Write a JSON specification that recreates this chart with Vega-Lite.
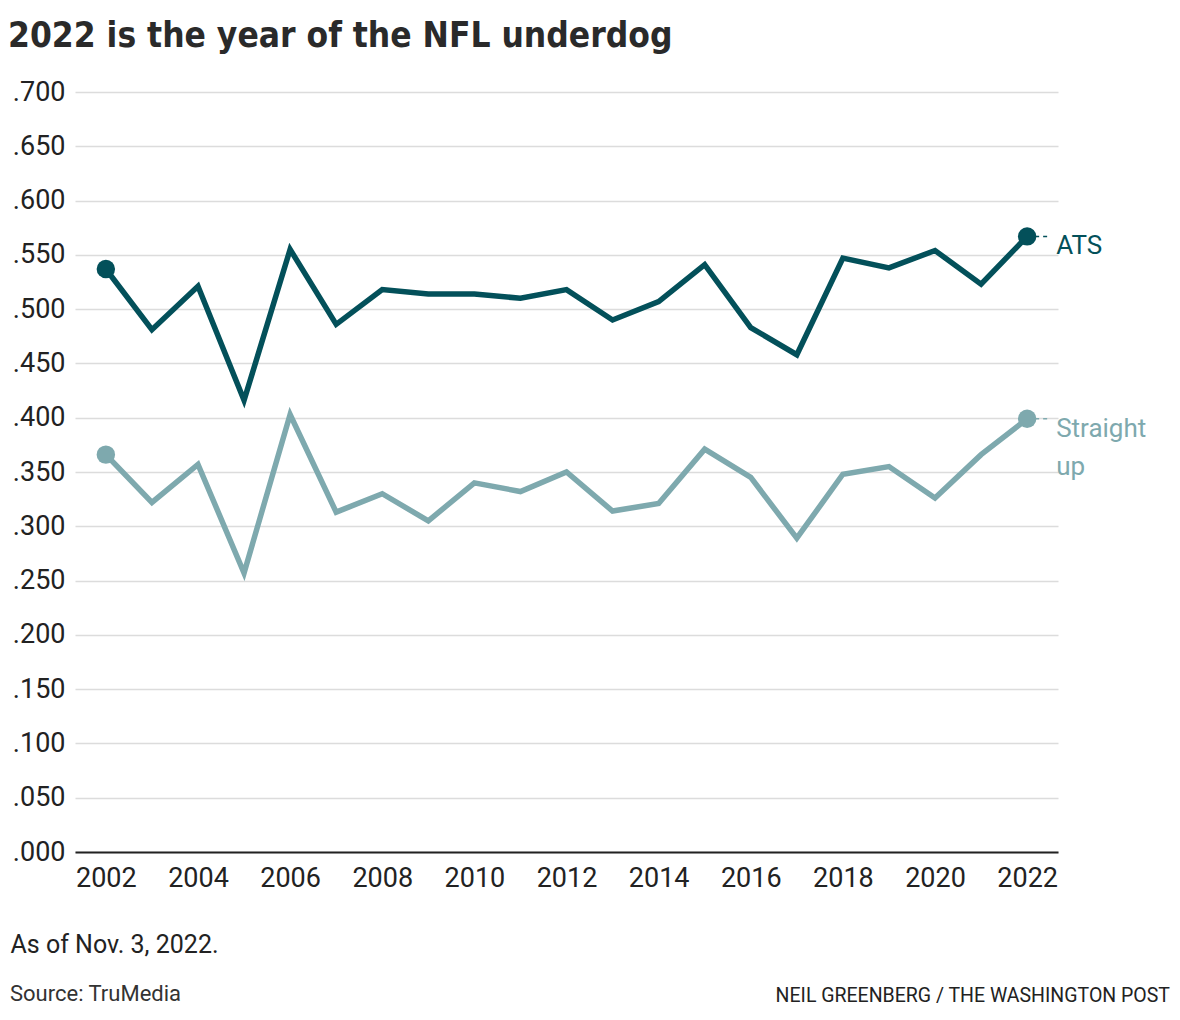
{
  "$schema": "https://vega.github.io/schema/vega-lite/v6.json",
  "background": "white",
  "padding": {"left": 8, "top": 19, "right": 10, "bottom": 10},
  "config": {
    "view": {"stroke": null},
    "font": "Roboto",
    "title": {"color": "#222222"}
  },
  "title": {
    "text": "2022 is the year of the NFL underdog",
    "anchor": "start",
    "frame": "bounds",
    "font": "DejaVu Sans Condensed",
    "fontWeight": "bold",
    "fontSize": 35,
    "color": "#2a2a2a",
    "offset": 24,
    "dx": -2
  },
  "vconcat": [
    {
      "title": {
        "text": "Source: TruMedia",
        "orient": "bottom",
        "anchor": "start",
        "frame": "bounds",
        "font": "Roboto",
        "fontWeight": "normal",
        "fontSize": 22,
        "color": "#333333",
        "offset": 0,
        "dy": -22
      },
      "vconcat": [
        {
          "width": 983,
          "height": 760,
          "title": {
            "text": "NEIL GREENBERG / THE WASHINGTON POST",
            "orient": "bottom",
            "anchor": "end",
            "frame": "group",
            "font": "Roboto",
            "fontWeight": "normal",
            "fontSize": 19.5,
            "color": "#222222",
            "offset": 30,
            "dx": 112
          },
          "data": {
            "values": [
              {"year": 2002, "series": "ATS", "value": 0.537},
              {"year": 2003, "series": "ATS", "value": 0.481},
              {"year": 2004, "series": "ATS", "value": 0.521},
              {"year": 2005, "series": "ATS", "value": 0.416},
              {"year": 2006, "series": "ATS", "value": 0.555},
              {"year": 2007, "series": "ATS", "value": 0.486},
              {"year": 2008, "series": "ATS", "value": 0.518},
              {"year": 2009, "series": "ATS", "value": 0.514},
              {"year": 2010, "series": "ATS", "value": 0.514},
              {"year": 2011, "series": "ATS", "value": 0.510},
              {"year": 2012, "series": "ATS", "value": 0.518},
              {"year": 2013, "series": "ATS", "value": 0.490},
              {"year": 2014, "series": "ATS", "value": 0.507},
              {"year": 2015, "series": "ATS", "value": 0.541},
              {"year": 2016, "series": "ATS", "value": 0.483},
              {"year": 2017, "series": "ATS", "value": 0.458},
              {"year": 2018, "series": "ATS", "value": 0.547},
              {"year": 2019, "series": "ATS", "value": 0.538},
              {"year": 2020, "series": "ATS", "value": 0.554},
              {"year": 2021, "series": "ATS", "value": 0.523},
              {"year": 2022, "series": "ATS", "value": 0.567},
              {"year": 2002, "series": "Straight up", "value": 0.366},
              {"year": 2003, "series": "Straight up", "value": 0.322},
              {"year": 2004, "series": "Straight up", "value": 0.357},
              {"year": 2005, "series": "Straight up", "value": 0.257},
              {"year": 2006, "series": "Straight up", "value": 0.403},
              {"year": 2007, "series": "Straight up", "value": 0.313},
              {"year": 2008, "series": "Straight up", "value": 0.330},
              {"year": 2009, "series": "Straight up", "value": 0.305},
              {"year": 2010, "series": "Straight up", "value": 0.340},
              {"year": 2011, "series": "Straight up", "value": 0.332},
              {"year": 2012, "series": "Straight up", "value": 0.350},
              {"year": 2013, "series": "Straight up", "value": 0.314},
              {"year": 2014, "series": "Straight up", "value": 0.321},
              {"year": 2015, "series": "Straight up", "value": 0.371},
              {"year": 2016, "series": "Straight up", "value": 0.345},
              {"year": 2017, "series": "Straight up", "value": 0.289},
              {"year": 2018, "series": "Straight up", "value": 0.348},
              {"year": 2019, "series": "Straight up", "value": 0.355},
              {"year": 2020, "series": "Straight up", "value": 0.326},
              {"year": 2021, "series": "Straight up", "value": 0.366},
              {"year": 2022, "series": "Straight up", "value": 0.399}
            ]
          },
          "encoding": {
            "x": {
              "field": "year",
              "type": "quantitative",
              "scale": {"domain": [2001.33, 2022.67], "nice": false, "zero": false},
              "axis": {
                "values": [2002, 2004, 2006, 2008, 2010, 2012, 2014, 2016, 2018, 2020, 2022],
                "format": "d",
                "grid": false,
                "ticks": false,
                "domainColor": "#222222",
                "domainWidth": 2,
                "labelFont": "Roboto",
                "labelFontSize": 27,
                "labelColor": "#222222",
                "labelPadding": 13,
                "labelFlush": false,
                "title": "As of Nov. 3, 2022.",
                "titleFont": "Roboto",
                "titleFontSize": 25,
                "titleFontWeight": "normal",
                "titleColor": "#222222",
                "titleAnchor": "start",
                "titleAlign": "left",
                "titleBaseline": "alphabetic",
                "titleX": -65,
                "titleY": 100
              }
            },
            "y": {
              "field": "value",
              "type": "quantitative",
              "scale": {"domain": [0, 0.7], "nice": false},
              "axis": {
                "values": [0, 0.05, 0.1, 0.15, 0.2, 0.25, 0.3, 0.35, 0.4, 0.45, 0.5, 0.55, 0.6, 0.65, 0.7],
                "labelExpr": "replace(format(datum.value, '.3f'), '0.', '.')",
                "domain": false,
                "ticks": false,
                "gridColor": "#dcdcdc",
                "gridWidth": 1.5,
                "labelFont": "Roboto",
                "labelFontSize": 27,
                "labelColor": "#222222",
                "labelPadding": 10,
                "title": null
              }
            },
            "color": {
              "field": "series",
              "type": "nominal",
              "scale": {"domain": ["ATS", "Straight up"], "range": ["#03505a", "#7ea9ae"]},
              "legend": null
            }
          },
          "layer": [
            {
              "mark": {"type": "line", "strokeWidth": 5.5, "strokeJoin": "miter", "strokeCap": "butt"}
            },
            {
              "transform": [{"filter": "datum.year == 2022"}],
              "mark": {"type": "rule", "strokeWidth": 1.5, "strokeDash": [4, 4]},
              "encoding": {"x2": {"datum": 2022.5}, "y2": {"field": "value"}}
            },
            {
              "transform": [{"filter": "datum.year == 2002 || datum.year == 2022"}],
              "mark": {"type": "point", "filled": true, "opacity": 1, "size": 340}
            },
            {
              "transform": [{"filter": "datum.year == 2022"}],
              "mark": {"type": "text", "align": "left", "baseline": "middle", "dx": 29, "dy": 10, "fontSize": 26, "font": "Roboto", "lineBreak": " ", "lineHeight": 38},
              "encoding": {"text": {"field": "series"}}
            }
          ]
        }
      ]
    }
  ]
}
